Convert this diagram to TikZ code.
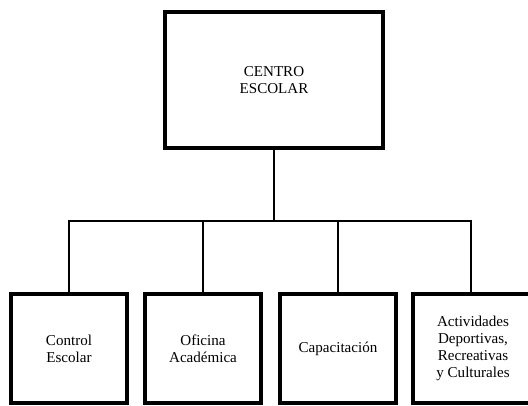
\documentclass[tikz,border=0pt]{standalone}
\usepackage{fontspec}
\setmainfont{Liberation Serif}
\begin{document}
\begin{tikzpicture}[x=0.75pt,y=-0.75pt,
  box/.style={draw=black, line width=3pt, fill=white, align=center, inner sep=2pt,
    font=\fontsize{11.3}{12.8}\selectfont},
  topbox/.style={box, minimum width=163.5pt, minimum height=102pt},
  subbox/.style={box, minimum width=87pt, minimum height=81.75pt},
  conn/.style={draw=black, line width=1.1pt}]
\useasboundingbox (0,0) rectangle (528,406);
\node[topbox] (top) at (274,80) {CENTRO\\ESCOLAR};
\node[subbox] (c1) at (69,348.5) {Control\\Escolar};
\node[subbox] (c2) at (203,348.5) {Oficina\\Académica};
\node[subbox] (c3) at (338,348.5) {Capacitación};
\node[subbox, minimum width=90pt] (c4) at (473,348.5) {Actividades\\Deportivas,\\Recreativas\\y Culturales};
\coordinate (bus) at (274,221);
\draw[conn] (top.south) -- (bus);
\draw[conn] (bus) -| (c1.north);
\draw[conn] (bus) -| (c2.north);
\draw[conn] (bus) -| (c3.north);
\draw[conn] (bus) -| ([xshift=-1.5pt]c4.north);
\end{tikzpicture}
\end{document}
